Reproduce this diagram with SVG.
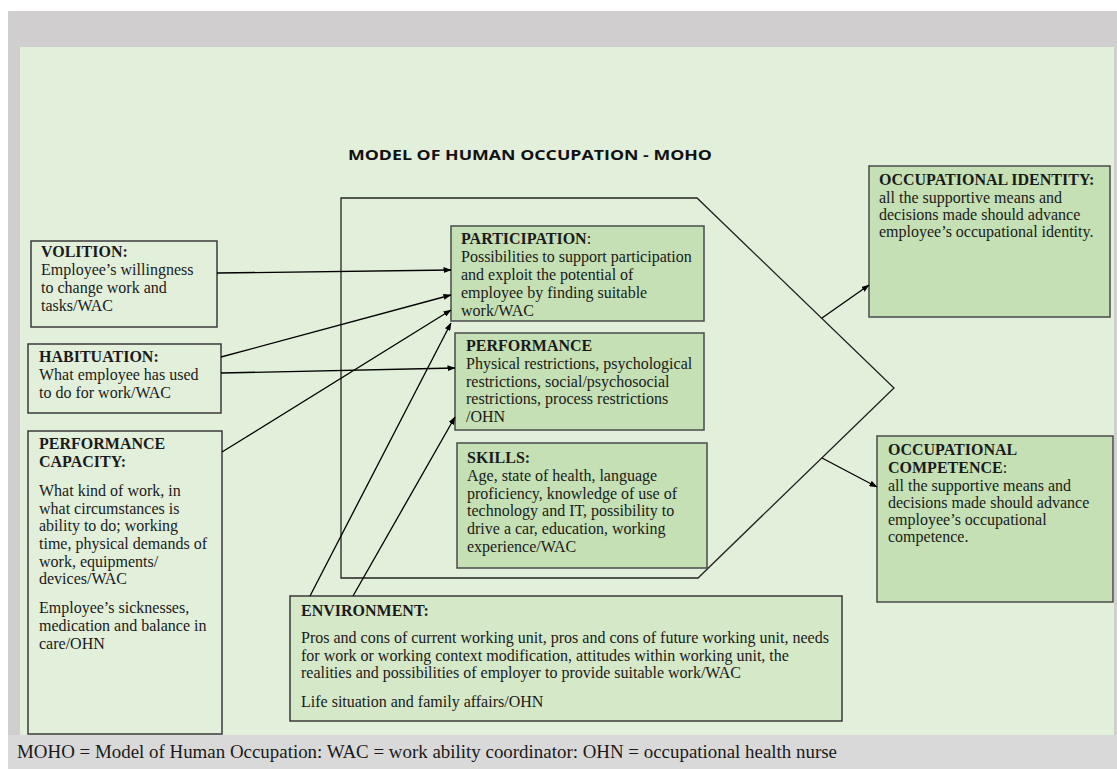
<svg xmlns="http://www.w3.org/2000/svg" width="1117" height="769" viewBox="0 0 1117 769">
<defs>
<marker id="ah" markerWidth="8" markerHeight="6" refX="7.5" refY="3" orient="auto" markerUnits="userSpaceOnUse">
<path d="M0,0 L8,3 L0,6 z" fill="#000"/>
</marker>
<style>
.t{font-family:"Liberation Serif","Times New Roman",serif;font-size:16px;fill:#1a1a1a}
.b{font-weight:bold}
.left{fill:#e2efda;stroke:#3a3a3a;stroke-width:1.5}
.mid{fill:#c5e0b4;stroke:#4a4a4a;stroke-width:1.5}
.env{fill:#d5e8c8;stroke:#3a3a3a;stroke-width:1.5}
.conn line{stroke:#000;stroke-width:1.3;marker-end:url(#ah)}
</style>
</defs>
<rect x="0" y="0" width="1117" height="769" fill="#ffffff"/>
<rect x="8" y="11" width="1109" height="758" fill="#d0cece"/>
<rect x="8" y="735" width="1109" height="34" fill="#d9d9d9"/>
<rect x="20" y="47" width="1094" height="688" fill="#e2efda"/>
<text x="530" y="160" text-anchor="middle" font-family="'Open Sans','Liberation Sans',sans-serif" font-weight="bold" font-size="15" textLength="364" lengthAdjust="spacingAndGlyphs" fill="#111">MODEL OF HUMAN OCCUPATION - MOHO</text>
<g id="frame">
<polygon points="341,198 697,198 894,388 698,578 341,578" fill="none" stroke="#222" stroke-width="1.3"/>
</g>
<g id="volition">
<rect class="left" x="31" y="241" width="186" height="86"/>
<text class="t"><tspan class="b" x="41" y="257">VOLITION:</tspan><tspan x="41" y="275">Employee’s willingness</tspan><tspan x="41" y="293">to change work and</tspan><tspan x="41" y="311">tasks/WAC</tspan></text>
</g>
<g id="habituation">
<rect class="left" x="28" y="344" width="193" height="69"/>
<text class="t"><tspan class="b" x="39" y="362">HABITUATION:</tspan><tspan x="39" y="380">What employee has used</tspan><tspan x="39" y="398">to do for work/WAC</tspan></text>
</g>
<g id="performance-capacity">
<rect class="left" x="28" y="431" width="194" height="303"/>
<text class="t"><tspan class="b" x="39" y="449">PERFORMANCE</tspan><tspan class="b" x="39" y="467">CAPACITY:</tspan><tspan x="39" y="496">What kind of work, in</tspan><tspan x="39" y="513.5">what circumstances is</tspan><tspan x="39" y="531">ability to do; working</tspan><tspan x="39" y="549">time, physical demands of</tspan><tspan x="39" y="566.5">work, equipments/</tspan><tspan x="39" y="584">devices/WAC</tspan><tspan x="39" y="613">Employee’s sicknesses,</tspan><tspan x="39" y="631">medication and balance in</tspan><tspan x="39" y="648.5">care/OHN</tspan></text>
</g>
<g id="participation">
<rect class="mid" x="451" y="226" width="253" height="95"/>
<text class="t"><tspan class="b" x="461" y="244">PARTICIPATION</tspan><tspan>:</tspan><tspan x="461" y="262">Possibilities to support participation</tspan><tspan x="461" y="280">and exploit the potential of</tspan><tspan x="461" y="298">employee by finding suitable</tspan><tspan x="461" y="316">work/WAC</tspan></text>
</g>
<g id="performance">
<rect class="mid" x="455" y="333" width="249" height="97"/>
<text class="t"><tspan class="b" x="466" y="351">PERFORMANCE</tspan><tspan x="466" y="369">Physical restrictions, psychological</tspan><tspan x="466" y="386.5">restrictions, social/psychosocial</tspan><tspan x="466" y="404">restrictions, process restrictions</tspan><tspan x="466" y="422">/OHN</tspan></text>
</g>
<g id="skills">
<rect class="mid" x="457" y="443" width="250" height="125"/>
<text class="t"><tspan class="b" x="467" y="463">SKILLS:</tspan><tspan x="467" y="481">Age, state of health, language</tspan><tspan x="467" y="498.5">proficiency, knowledge of use of</tspan><tspan x="467" y="516">technology and IT, possibility to</tspan><tspan x="467" y="534">drive a car, education, working</tspan><tspan x="467" y="551.5">experience/WAC</tspan></text>
</g>
<g id="environment">
<rect class="env" x="290" y="596" width="552" height="125"/>
<text class="t"><tspan class="b" x="301" y="616">ENVIRONMENT:</tspan><tspan x="301" y="643">Pros and cons of current working unit, pros and cons of future working unit, needs</tspan><tspan x="301" y="661">for work or working context modification, attitudes within working unit, the</tspan><tspan x="301" y="678">realities and possibilities of employer to provide suitable work/WAC</tspan><tspan x="301" y="707">Life situation and family affairs/OHN</tspan></text>
</g>
<g id="occupational-identity">
<rect class="mid" x="869" y="166" width="241" height="151"/>
<text class="t"><tspan class="b" x="879" y="185">OCCUPATIONAL IDENTITY:</tspan><tspan x="879" y="203">all the supportive means and</tspan><tspan x="879" y="220">decisions made should advance</tspan><tspan x="879" y="237">employee’s occupational identity.</tspan></text>
</g>
<g id="occupational-competence">
<rect class="mid" x="877" y="436" width="236" height="166"/>
<text class="t"><tspan class="b" x="888" y="455">OCCUPATIONAL</tspan><tspan class="b" x="888" y="473">COMPETENCE</tspan><tspan>:</tspan><tspan x="888" y="491">all the supportive means and</tspan><tspan x="888" y="508">decisions made should advance</tspan><tspan x="888" y="525">employee’s occupational</tspan><tspan x="888" y="542">competence.</tspan></text>
</g>
<g id="connectors" class="conn">
<line x1="217" y1="273" x2="451" y2="270"/>
<line x1="221" y1="357" x2="451" y2="295"/>
<line x1="221" y1="373" x2="455" y2="368"/>
<line x1="222" y1="452" x2="451" y2="310"/>
<line x1="310" y1="596" x2="451" y2="323"/>
<line x1="353" y1="596" x2="455" y2="417"/>
<line x1="822" y1="318" x2="869" y2="285"/>
<line x1="822" y1="458" x2="877" y2="487"/>
</g>
<text class="t" x="17" y="758" textLength="820" lengthAdjust="spacingAndGlyphs" style="font-size:18.5px">MOHO = Model of Human Occupation: WAC = work ability coordinator: OHN = occupational health nurse</text>
</svg>
